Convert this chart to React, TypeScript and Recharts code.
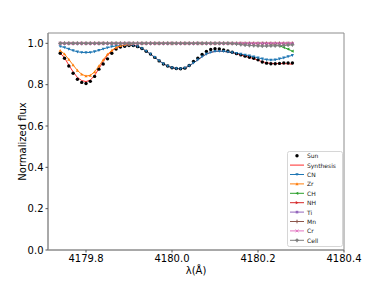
import React from 'react';
import { LineChart, Line, XAxis, YAxis, ReferenceArea, Label } from 'recharts';

// wavelength grid (Å)
const WAVE = [
  4179.74, 4179.75, 4179.76, 4179.77, 4179.78, 4179.79, 4179.80, 4179.81, 4179.82, 4179.83,
  4179.84, 4179.85, 4179.86, 4179.87, 4179.88, 4179.89, 4179.90, 4179.91, 4179.92, 4179.93,
  4179.94, 4179.95, 4179.96, 4179.97, 4179.98, 4179.99, 4180.00, 4180.01, 4180.02, 4180.03,
  4180.04, 4180.05, 4180.06, 4180.07, 4180.08, 4180.09, 4180.10, 4180.11, 4180.12, 4180.13,
  4180.14, 4180.15, 4180.16, 4180.17, 4180.18, 4180.19, 4180.20, 4180.21, 4180.22, 4180.23,
  4180.24, 4180.25, 4180.26, 4180.27, 4180.28,
];

const SUN = [
  0.952, 0.928, 0.890, 0.855, 0.826, 0.811, 0.806, 0.816, 0.840, 0.875,
  0.900, 0.925, 0.952, 0.972, 0.982, 0.986, 0.989, 0.989, 0.984, 0.975,
  0.962, 0.948, 0.932, 0.915, 0.900, 0.890, 0.882, 0.878, 0.877, 0.880,
  0.893, 0.912, 0.928, 0.946, 0.961, 0.970, 0.974, 0.973, 0.968, 0.963,
  0.957, 0.950, 0.944, 0.938, 0.933, 0.928, 0.920, 0.910, 0.904, 0.901,
  0.901, 0.903, 0.905, 0.905, 0.905,
];

const SYNTH = [
  0.953, 0.930, 0.895, 0.862, 0.835, 0.820, 0.815, 0.822, 0.845, 0.878,
  0.912, 0.942, 0.963, 0.978, 0.986, 0.990, 0.991, 0.990, 0.985, 0.975,
  0.962, 0.948, 0.932, 0.916, 0.901, 0.890, 0.882, 0.878, 0.877, 0.881,
  0.891, 0.905, 0.920, 0.935, 0.948, 0.956, 0.961, 0.962, 0.961, 0.958,
  0.955, 0.950, 0.944, 0.938, 0.932, 0.926, 0.918, 0.911, 0.906, 0.903,
  0.902, 0.902, 0.902, 0.901, 0.899,
];

const CN = [
  0.985, 0.980, 0.972, 0.965, 0.959, 0.956, 0.955, 0.956, 0.960, 0.966,
  0.973, 0.979, 0.984, 0.987, 0.989, 0.990, 0.991, 0.990, 0.985, 0.975,
  0.962, 0.948, 0.932, 0.916, 0.901, 0.890, 0.882, 0.878, 0.877, 0.881,
  0.891, 0.905, 0.920, 0.935, 0.948, 0.956, 0.961, 0.962, 0.961, 0.958,
  0.955, 0.952, 0.948, 0.944, 0.940, 0.935, 0.930, 0.925, 0.921, 0.919,
  0.920, 0.925, 0.930, 0.936, 0.942,
];

const ZR = [
  0.965, 0.948, 0.922, 0.895, 0.869, 0.850, 0.842, 0.845, 0.862, 0.890,
  0.920, 0.947, 0.966, 0.980, 0.989, 0.993, 0.996, 0.998, 0.999, 1.0,
  1.0, 1.0, 1.0, 1.0, 1.0, 1.0, 1.0, 1.0, 1.0, 1.0,
  1.0, 1.0, 1.0, 1.0, 1.0, 1.0, 1.0, 1.0, 1.0, 1.0,
  1.0, 1.0, 1.0, 1.0, 1.0, 1.0, 1.0, 1.0, 1.0, 1.0,
  1.0, 1.0, 1.0, 1.0, 1.0,
];

const CH = [
  1.0, 1.0, 1.0, 1.0, 1.0, 1.0, 1.0, 1.0, 1.0, 1.0,
  1.0, 1.0, 1.0, 1.0, 1.0, 1.0, 1.0, 1.0, 1.0, 1.0,
  1.0, 1.0, 1.0, 1.0, 1.0, 1.0, 1.0, 1.0, 1.0, 1.0,
  1.0, 1.0, 1.0, 1.0, 1.0, 1.0, 1.0, 1.0, 1.0, 1.0,
  1.0, 1.0, 1.0, 1.0, 1.0, 1.0, 1.0, 1.0, 0.999, 0.998,
  0.995, 0.988, 0.980, 0.972, 0.962,
];

const NH = [
  1.0, 1.0, 1.0, 1.0, 1.0, 1.0, 1.0, 1.0, 1.0, 1.0,
  1.0, 1.0, 1.0, 1.0, 1.0, 1.0, 1.0, 1.0, 1.0, 1.0,
  1.0, 1.0, 1.0, 1.0, 1.0, 1.0, 1.0, 1.0, 1.0, 1.0,
  1.0, 1.0, 1.0, 1.0, 1.0, 1.0, 1.0, 1.0, 1.0, 1.0,
  1.0, 1.0, 1.0, 1.0, 1.0, 1.0, 1.0, 1.0, 1.0, 1.0,
  1.0, 1.0, 1.0, 1.0, 1.0,
];

const TI = [
  1.0, 1.0, 1.0, 1.0, 1.0, 1.0, 1.0, 1.0, 1.0, 1.0,
  1.0, 1.0, 1.0, 1.0, 1.0, 1.0, 1.0, 1.0, 1.0, 1.0,
  1.0, 1.0, 1.0, 1.0, 1.0, 1.0, 1.0, 1.0, 1.0, 1.0,
  1.0, 1.0, 1.0, 1.0, 1.0, 1.0, 1.0, 1.0, 1.0, 1.0,
  1.0, 1.0, 1.0, 1.0, 1.0, 1.0, 1.0, 1.0, 1.0, 1.0,
  1.0, 1.0, 1.0, 1.0, 1.0,
];

const MN = [
  1.0, 1.0, 1.0, 1.0, 1.0, 1.0, 1.0, 1.0, 1.0, 1.0,
  1.0, 1.0, 1.0, 1.0, 1.0, 1.0, 1.0, 1.0, 1.0, 1.0,
  1.0, 1.0, 1.0, 1.0, 1.0, 1.0, 1.0, 1.0, 1.0, 1.0,
  1.0, 1.0, 1.0, 1.0, 1.0, 1.0, 1.0, 1.0, 1.0, 1.0,
  1.0, 1.0, 1.0, 1.0, 1.0, 1.0, 1.0, 1.0, 1.0, 1.0,
  1.0, 1.0, 1.0, 1.0, 1.0,
];

const CR = [
  1.0, 1.0, 1.0, 1.0, 1.0, 1.0, 1.0, 1.0, 1.0, 1.0,
  1.0, 1.0, 1.0, 1.0, 1.0, 1.0, 1.0, 1.0, 1.0, 1.0,
  1.0, 1.0, 1.0, 1.0, 1.0, 1.0, 1.0, 1.0, 1.0, 1.0,
  1.0, 1.0, 1.0, 1.0, 1.0, 1.0, 1.0, 1.0, 1.0, 1.0,
  1.0, 1.0, 1.0, 1.0, 1.0, 1.0, 1.0, 1.0, 1.0, 1.0,
  1.0, 1.0, 1.0, 1.0, 1.0,
];

const CELL = [
  1.0, 1.0, 1.0, 1.0, 1.0, 1.0, 1.0, 1.0, 1.0, 1.0,
  1.0, 1.0, 1.0, 1.0, 1.0, 1.0, 1.0, 1.0, 1.0, 1.0,
  1.0, 1.0, 1.0, 1.0, 1.0, 1.0, 1.0, 1.0, 1.0, 1.0,
  1.0, 1.0, 1.0, 1.0, 1.0, 1.0, 1.0, 1.0, 1.0, 1.0,
  0.999, 0.997, 0.994, 0.992, 0.990, 0.989, 0.988, 0.987, 0.987, 0.988,
  0.988, 0.989, 0.990, 0.992, 0.993,
];

const X_TICKS = [4179.8, 4180.0, 4180.2, 4180.4];
const Y_TICKS = [0, 0.2, 0.4, 0.6, 0.8, 1.0];

const data = WAVE.map((x, i) => ({
  x,
  sun: SUN[i],
  synth: SYNTH[i],
  cn: CN[i],
  zr: ZR[i],
  ch: CH[i],
  nh: NH[i],
  ti: TI[i],
  mn: MN[i],
  cr: CR[i],
  cell: CELL[i],
}));

type Shape = 'o' | 'v' | '^' | '<' | '>' | 's' | '|' | 'x' | '+' | null;

const SERIES: { key: string; name: string; color: string; shape: Shape; line: boolean }[] = [
  { key: 'sun', name: 'Sun', color: '#000000', shape: 'o', line: false },
  { key: 'synth', name: 'Synthesis', color: '#ff2a2a', shape: null, line: true },
  { key: 'cn', name: 'CN', color: '#1f77b4', shape: 'v', line: true },
  { key: 'zr', name: 'Zr', color: '#ff7f0e', shape: '^', line: true },
  { key: 'ch', name: 'CH', color: '#2ca02c', shape: '<', line: true },
  { key: 'nh', name: 'NH', color: '#d62728', shape: '>', line: true },
  { key: 'ti', name: 'Ti', color: '#9467bd', shape: 's', line: true },
  { key: 'mn', name: 'Mn', color: '#8c564b', shape: '|', line: true },
  { key: 'cr', name: 'Cr', color: '#e377c2', shape: 'x', line: true },
  { key: 'cell', name: 'Cell', color: '#7f7f7f', shape: '+', line: true },
];

function marker(shape: Shape, color: string, cx: number, cy: number, k?: string | number) {
  const s = 1.6;
  switch (shape) {
    case 'o':
      return <circle key={k} cx={cx} cy={cy} r={1.7} fill={color} />;
    case 'v':
      return <polygon key={k} points={`${cx - s},${cy - s * 0.8} ${cx + s},${cy - s * 0.8} ${cx},${cy + s}`} fill={color} />;
    case '^':
      return <polygon key={k} points={`${cx - s},${cy + s * 0.8} ${cx + s},${cy + s * 0.8} ${cx},${cy - s}`} fill={color} />;
    case '<':
      return <polygon key={k} points={`${cx + s * 0.8},${cy - s} ${cx + s * 0.8},${cy + s} ${cx - s},${cy}`} fill={color} />;
    case '>':
      return <polygon key={k} points={`${cx - s * 0.8},${cy - s} ${cx - s * 0.8},${cy + s} ${cx + s},${cy}`} fill={color} />;
    case 's':
      return <rect key={k} x={cx - 1.3} y={cy - 1.3} width={2.6} height={2.6} fill={color} />;
    case '|':
      return <line key={k} x1={cx} y1={cy - 1.8} x2={cx} y2={cy + 1.8} stroke={color} strokeWidth={1} />;
    case 'x':
      return (
        <path key={k} d={`M${cx - 1.4},${cy - 1.4}L${cx + 1.4},${cy + 1.4}M${cx - 1.4},${cy + 1.4}L${cx + 1.4},${cy - 1.4}`} stroke={color} strokeWidth={1} />
      );
    case '+':
      return (
        <g key={k}>
          <circle cx={cx} cy={cy} r={1.4} fill={color} />
          <path d={`M${cx - 2},${cy}L${cx + 2},${cy}M${cx},${cy - 2}L${cx},${cy + 2}`} stroke={color} strokeWidth={0.9} />
        </g>
      );
    default:
      return <g key={k} />;
  }
}

const makeDot = (shape: Shape, color: string) => (props: any) => {
  const { cx, cy, index } = props;
  if (cx == null || cy == null) return <g key={`d${index}`} />;
  return marker(shape, color, cx, cy, `d${index}`);
};

const FONT = 'DejaVu Sans, sans-serif';

const LegendBox = () => {
  const top = 155.7;
  const step = 9.4;
  return (
    <svg width={383} height={281} style={{ position: 'absolute', left: 0, top: 0, pointerEvents: 'none' }}>
      <rect x={287.5} y={151.5} width={55} height={95} rx={2} fill="#ffffff" fillOpacity={0.85} stroke="#d6d6d6" strokeWidth={1} />
      {SERIES.map((s, i) => {
        const y = top + i * step;
        return (
          <g key={s.key}>
            {s.line && <line x1={290} y1={y} x2={304} y2={y} stroke={s.color} strokeWidth={1} />}
            {s.shape && marker(s.shape, s.color, 297, y)}
            <text x={307} y={y} fontSize={6} fontFamily={FONT} fill="#222" dominantBaseline="central">
              {s.name}
            </text>
          </g>
        );
      })}
    </svg>
  );
};

export default function App() {
  return (
    <div style={{ position: 'absolute', left: 0, top: 0, width: 383, height: 281, background: '#fff', fontFamily: FONT }}>
      <LineChart width={383} height={281} data={data} margin={{ top: 33, right: 39, bottom: 0, left: 0 }}>
        <XAxis
          dataKey="x"
          type="number"
          domain={[4179.7116, 4180.4]}
          allowDataOverflow
          ticks={X_TICKS}
          tickFormatter={(v: number) => v.toFixed(1)}
          height={31}
          tickSize={2.5}
          tickMargin={2.5}
          axisLine={{ stroke: '#8c8c8c' }}
          tickLine={{ stroke: '#555' }}
          tick={{ fill: '#000', fontSize: 10, fontFamily: FONT }}
        >
          <Label value="λ(Å)" position="insideBottom" offset={7} style={{ fill: '#000', fontSize: 10, fontFamily: FONT }} />
        </XAxis>
        <YAxis
          type="number"
          domain={[0, 1.05]}
          allowDataOverflow
          ticks={Y_TICKS}
          tickFormatter={(v: number) => v.toFixed(1)}
          width={48}
          tickSize={2.5}
          tickMargin={2}
          axisLine={{ stroke: '#8c8c8c' }}
          tickLine={{ stroke: '#555' }}
          tick={{ fill: '#000', fontSize: 10, fontFamily: FONT }}
        >
          <Label
            content={() => (
              <text x={22} y={141.5} transform="rotate(-90 22 141.5)" textAnchor="middle" dominantBaseline="central" fontSize={10} fontFamily={FONT} fill="#000">
                Normalized flux
              </text>
            )}
          />
        </YAxis>
        <ReferenceArea x1={4179.7116} x2={4180.4} y1={0} y2={1.05} fill="none" stroke="#8c8c8c" strokeWidth={1} ifOverflow="visible" />
        {SERIES.map((s) => (
          <Line
            key={s.key}
            dataKey={s.key}
            type="linear"
            stroke={s.line ? s.color : 'none'}
            strokeWidth={s.line ? 1 : 0}
            dot={makeDot(s.shape, s.color)}
            activeDot={false}
            isAnimationActive={false}
          />
        ))}
      </LineChart>
      <LegendBox />
    </div>
  );
}
